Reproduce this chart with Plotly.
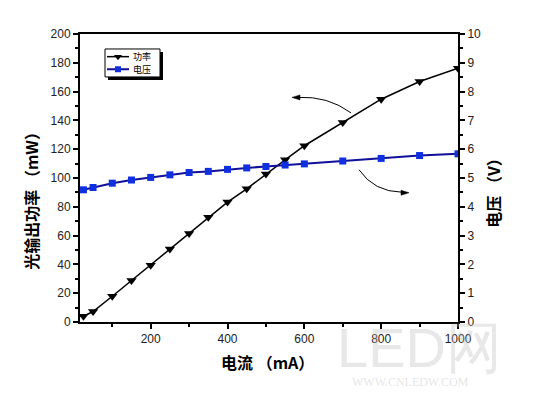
import plotly.graph_objects as go

current_ma = [25, 50, 100, 150, 200, 250, 300, 350, 400, 450, 500, 550, 600, 700, 800, 900, 1000]
power_mw = [4.0, 7.3, 17.9, 28.8, 39.4, 50.7, 61.4, 72.7, 83.3, 92.5, 102.8, 112.6, 122.4, 138.5, 154.7, 167.0, 176.2]
voltage_v = [4.59, 4.67, 4.82, 4.93, 5.02, 5.11, 5.19, 5.23, 5.30, 5.35, 5.40, 5.45, 5.49, 5.59, 5.68, 5.78, 5.84]

W, H = 539, 394
OFF = 8  # page body margin in the browser
L, R, T, B = 80, 458, 34, 322.5


def px(x):
    return (x - L) / (R - L)


def py(y):
    return (B - y) / (B - T)


fig = go.Figure()
fig.add_trace(go.Scatter(x=current_ma, y=power_mw, mode="lines+markers", name="功率",
                         line=dict(color="black", width=1.5),
                         marker=dict(symbol="triangle-down", size=9, color="black")))
fig.add_trace(go.Scatter(x=current_ma, y=voltage_v, mode="lines+markers", name="电压", yaxis="y2",
                         line=dict(color="#10109a", width=2),
                         marker=dict(symbol="square", size=7, color="#1030e0")))

# manual legend on an overlay axis in paper-like coordinates
lg_y1, lg_y2 = py(56.7), py(69.3)
fig.add_trace(go.Scatter(x=[px(107), px(129)], y=[lg_y1, lg_y1], mode="lines", xaxis="x3", yaxis="y3",
                         line=dict(color="black", width=1.5), showlegend=False, hoverinfo="skip"))
fig.add_trace(go.Scatter(x=[px(118)], y=[lg_y1], mode="markers", xaxis="x3", yaxis="y3",
                         marker=dict(symbol="triangle-down", size=7, color="black"), showlegend=False, hoverinfo="skip"))
fig.add_trace(go.Scatter(x=[px(107), px(129)], y=[lg_y2, lg_y2], mode="lines", xaxis="x3", yaxis="y3",
                         line=dict(color="#10109a", width=2), showlegend=False, hoverinfo="skip"))
fig.add_trace(go.Scatter(x=[px(118)], y=[lg_y2], mode="markers", xaxis="x3", yaxis="y3",
                         marker=dict(symbol="square", size=6, color="#1030e0"), showlegend=False, hoverinfo="skip"))

shapes = []
# legend shadow and box
shapes.append(dict(type="rect", xref="paper", yref="paper", x0=px(108), x1=px(163), y0=py(80), y1=py(52),
                   fillcolor="black", line=dict(width=0), layer="below"))
shapes.append(dict(type="rect", xref="paper", yref="paper", x0=px(105), x1=px(160), y0=py(77), y1=py(49),
                   fillcolor="white", line=dict(color="black", width=1), layer="below"))

# curved arrows
shapes.append(dict(type="path", xref="paper", yref="paper", layer="above",
                   path=f"M {px(351)},{py(113)} Q {px(328)},{py(96)} {px(298)},{py(97.5)}",
                   line=dict(color="black", width=1)))
shapes.append(dict(type="path", xref="paper", yref="paper", layer="above",
                   path=f"M {px(292)},{py(97.5)} L {px(300)},{py(95)} L {px(300)},{py(100)} Z",
                   fillcolor="black", line=dict(color="black", width=0.5)))
shapes.append(dict(type="path", xref="paper", yref="paper", layer="above",
                   path=f"M {px(359)},{py(170)} Q {px(374)},{py(192)} {px(402)},{py(192.5)}",
                   line=dict(color="black", width=1)))
shapes.append(dict(type="path", xref="paper", yref="paper", layer="above",
                   path=f"M {px(409)},{py(193)} L {px(401)},{py(190.5)} L {px(401)},{py(195.5)} Z",
                   fillcolor="black", line=dict(color="black", width=0.5)))

tickfont = dict(family="Liberation Sans, Arial", size=12, color="#222")
titlefont = dict(family="Noto Sans CJK SC", size=16, color="black")

annotations = [
    dict(text="<b>光输出功率 （mW）</b>", xref="paper", yref="paper", x=px(31), y=py(197), textangle=-90,
         showarrow=False, font=titlefont, xanchor="center", yanchor="middle"),
    dict(text="<b>电压 （V）</b>", xref="paper", yref="paper", x=px(493), y=py(189), textangle=-90,
         showarrow=False, font=titlefont, xanchor="center", yanchor="middle"),
    dict(text="<b>电流 （mA）</b>", xref="paper", yref="paper", x=px(267), y=py(363),
         showarrow=False, font=titlefont, xanchor="center", yanchor="middle"),
    dict(text="功率", xref="paper", yref="paper", x=px(131), y=lg_y1, showarrow=False,
         font=dict(family="Noto Sans CJK SC", size=9, color="black"), xanchor="left", yanchor="middle"),
    dict(text="电压", xref="paper", yref="paper", x=px(131), y=lg_y2, showarrow=False,
         font=dict(family="Noto Sans CJK SC", size=9, color="black"), xanchor="left", yanchor="middle"),
    dict(text="LED网", xref="paper", yref="paper", x=px(335), y=py(348), showarrow=False,
         font=dict(family="Liberation Sans", size=56, color="rgba(190,190,190,0.35)"), xanchor="left", yanchor="middle"),
    dict(text="WWW.CNLEDW.COM", xref="paper", yref="paper", x=px(350), y=py(383), showarrow=False,
         font=dict(family="Liberation Serif", size=12, color="rgba(190,190,190,0.4)"), xanchor="left", yanchor="middle"),
]

fig.update_layout(
    width=W - OFF, height=H - OFF, margin=dict(l=L - OFF, r=W - R, t=T - OFF, b=H - B, pad=0),
    paper_bgcolor="white", plot_bgcolor="white", showlegend=False,
    xaxis=dict(range=[16, 1000], tick0=0, dtick=200, showgrid=False, zeroline=False,
               showline=True, linecolor="black", linewidth=2, mirror=True,
               ticks="outside", ticklen=5, tickwidth=1.5, tickcolor="black", tickfont=tickfont,
               minor=dict(dtick=100, ticklen=3, tickcolor="black", ticks="outside")),
    yaxis=dict(range=[0, 200], dtick=20, showgrid=False, zeroline=False,
               showline=True, linecolor="black", linewidth=2,
               ticks="outside", ticklen=5, tickwidth=1.5, tickcolor="black", tickfont=tickfont,
               minor=dict(dtick=10, ticklen=3, tickcolor="black", ticks="outside")),
    yaxis2=dict(range=[0, 10], dtick=1, overlaying="y", side="right", showgrid=False, zeroline=False,
                showline=True, linecolor="black", linewidth=2,
                ticks="outside", ticklen=5, tickwidth=1.5, tickcolor="black", tickfont=tickfont,
                minor=dict(dtick=0.5, ticklen=3, tickcolor="black", ticks="outside")),
    xaxis3=dict(range=[0, 1], overlaying="x", visible=False, fixedrange=True),
    yaxis3=dict(range=[0, 1], overlaying="y", visible=False, fixedrange=True),
    shapes=shapes, annotations=annotations,
)

fig.write_html("out.html")
